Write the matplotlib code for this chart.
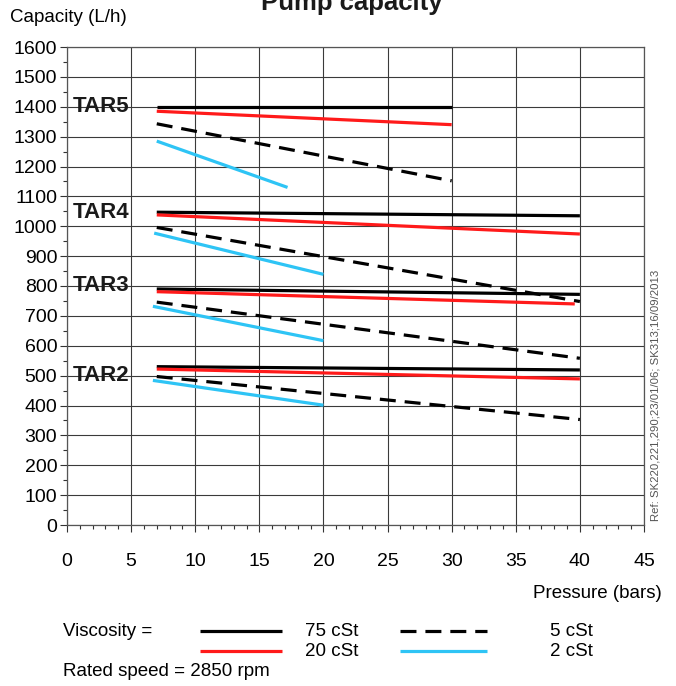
import matplotlib
matplotlib.use("Agg")
import matplotlib.pyplot as plt
from matplotlib.ticker import MultipleLocator
from matplotlib.lines import Line2D
from matplotlib import font_manager

plt.rcParams['font.family'] = ['Liberation Sans', 'DejaVu Sans']

# ---- data ----
tars = ['TAR5', 'TAR4', 'TAR3', 'TAR2']
viscosities = ['75 cSt', '20 cSt', '5 cSt', '2 cSt']

p75 = [[7, 30], [7, 40], [7, 40], [7, 40]]
c75 = [[1400, 1400], [1047, 1035], [790, 772], [530, 519]]
p20 = [[7, 30], [7, 40], [7, 39.6], [7, 40]]
c20 = [[1385, 1340], [1038, 974], [781, 740], [522, 489]]
p5 = [[7, 30], [7, 40], [7, 40], [7, 40]]
c5 = [[1343, 1152], [996, 748], [746, 558], [497, 353]]
p2 = [[7, 17.2], [6.8, 20], [6.7, 20], [6.7, 20]]
c2 = [[1285, 1130], [977, 839], [732, 617], [484, 401]]

tar_label_y = [1400, 1045, 803, 502]

xticks = list(range(0, 50, 5))
yticks = list(range(0, 1700, 100))

# ---- styles ----
BLACK = '#000000'
RED = '#ff1a1a'
BLUE = '#2ec4f5'
GRID = '#3a3a3a'
DASH = (0, (5.0, 2.8))

names = {f.name for f in font_manager.fontManager.ttflist}
if 'Liberation Sans Narrow' in names:
    tar_family = ['Liberation Sans Narrow', 'Liberation Sans']
    tar_size = 19
else:
    tar_family = ['Liberation Sans', 'DejaVu Sans']
    tar_size = 16

fig = plt.figure(figsize=(6.76, 6.86), dpi=100)
ax = fig.add_axes([67/676, 1-525/686, (644-67)/676, (525-47)/686])

ax.set_xlim(0, 45)
ax.set_ylim(0, 1600)
ax.set_xticks(xticks)
ax.set_yticks(yticks)
ax.xaxis.set_minor_locator(MultipleLocator(1))
ax.yaxis.set_minor_locator(MultipleLocator(50))
ax.grid(True, which='major', color=GRID, lw=0.8)
ax.set_axisbelow(True)
for s in ax.spines.values():
    s.set_color('#555555')
    s.set_linewidth(0.9)

ax.tick_params(axis='both', which='major', labelsize=14, length=5, width=0.8, color='#333333')
ax.tick_params(axis='both', which='minor', length=3, width=0.8, color='#333333')
ax.tick_params(axis='x', which='major', pad=15)
ax.tick_params(axis='y', which='major', pad=2)

lw = 2.3
for i in range(len(tars)):
    ax.plot(p75[i], c75[i], color=BLACK, lw=lw, solid_capstyle='butt')
    ax.plot(p20[i], c20[i], color=RED, lw=lw, solid_capstyle='butt')
    ax.plot(p5[i], c5[i], color=BLACK, lw=lw, ls=DASH, dash_capstyle='butt')
    ax.plot(p2[i], c2[i], color=BLUE, lw=lw, solid_capstyle='butt')
    ax.text(0.45, tar_label_y[i], tars[i], fontsize=tar_size, fontweight='bold',
            family=tar_family, ha='left', va='center', color='#1a1a1a')

# ---- texts ----
fig.text(352/676, 1-10/686, 'Pump capacity', fontsize=18.5, fontweight='bold',
         ha='center', va='baseline', color='#1a1a1a')
fig.text(10/676, 1-18/686, 'Capacity (L/h)', fontsize=13.5, ha='left', va='center')
fig.text(662/676, 1-594/686, 'Pressure (bars)', fontsize=13.5, ha='right', va='center')
fig.text(655/676, 1-395/686, 'Ref: SK220,221,290;23/01/06; SK313;16/09/2013',
         fontsize=8.2, rotation=90, ha='center', va='center', color='#555555')

# legend
fig.text(63/676, 1-631/686, 'Viscosity =', fontsize=13.5, ha='left', va='center')
fig.text(63/676, 1-671/686, 'Rated speed = 2850 rpm', fontsize=13.5, ha='left', va='center')
leg_styles = [
    dict(color=BLACK, lw=lw),
    dict(color=RED, lw=lw),
    dict(color=BLACK, lw=lw, ls=DASH),
    dict(color=BLUE, lw=lw),
]
leg_pos = [(200, 282, 631, 305), (200, 282, 651, 305), (400, 487, 631, 550), (400, 487, 651, 550)]
for name, st, (x0, x1, yy, tx) in zip(viscosities, leg_styles, leg_pos):
    fig.add_artist(Line2D([x0/676, x1/676], [1-yy/686, 1-yy/686], transform=fig.transFigure,
                          solid_capstyle='butt', dash_capstyle='butt', **st))
    fig.text(tx/676, 1-yy/686, name, fontsize=13.5, ha='left', va='center')

fig.savefig('out.png', dpi=100)
